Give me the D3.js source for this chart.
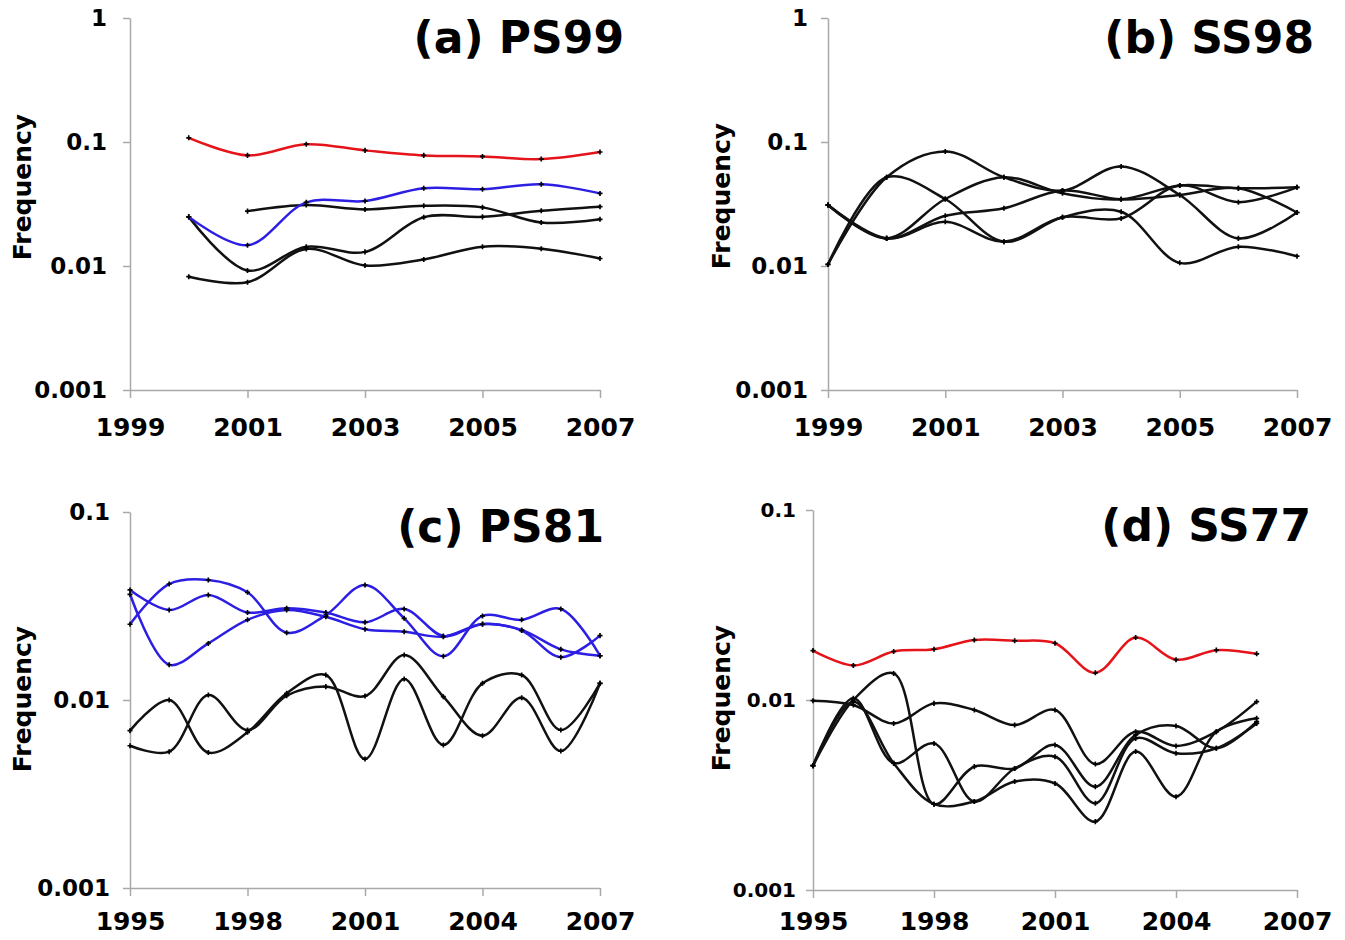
<!DOCTYPE html>
<html>
<head>
<meta charset="utf-8">
<script src="https://cdn.jsdelivr.net/npm/d3@7"></script>
<style>
  body { margin: 0; background: #fff; }
  text { font-family: "DejaVu Sans", Verdana, sans-serif; }
</style>
</head>
<body>
<div id="chart"></div>
<script>
// (a) PS99
var yearsPS99 = [2000, 2001, 2002, 2003, 2004, 2005, 2006, 2007];
var ps99Red    = [0.108, 0.078, 0.096, 0.0856, 0.078, 0.0765, 0.0728, 0.083];
var ps99Blue   = [0.0249, 0.0147, 0.0326, 0.0334, 0.0423, 0.0416, 0.0456, 0.0385];
var ps99Black1 = [null, 0.0277, 0.031, 0.0286, 0.0306, 0.0297, 0.0224, 0.0238];
var ps99Black2 = [0.0249, 0.0092, 0.0143, 0.013, 0.0247, 0.0249, 0.0279, 0.0301];
var ps99Black3 = [0.0082, 0.0074, 0.0137, 0.0101, 0.0113, 0.0143, 0.0138, 0.0115];

// (b) SS98
var yearsSS98 = [1999, 2000, 2001, 2002, 2003, 2004, 2005, 2006, 2007];
var ss98Line1 = [0.0103, 0.052, 0.084, 0.052, 0.0406, 0.0635, 0.0374, 0.0167, 0.027];
var ss98Line2 = [0.0103, 0.052, 0.0347, 0.0157, 0.0247, 0.0274, 0.0106, 0.0143, 0.012];
var ss98Line3 = [0.031, 0.0167, 0.0347, 0.052, 0.0386, 0.0345, 0.0446, 0.0424, 0.0431];
var ss98Line4 = [0.031, 0.0167, 0.0254, 0.0292, 0.0406, 0.0345, 0.0374, 0.0424, 0.027];
var ss98Line5 = [0.031, 0.0167, 0.0227, 0.0157, 0.0247, 0.0242, 0.0446, 0.0327, 0.0431];

// (c) PS81
var yearsPS81 = [1995, 1996, 1997, 1998, 1999, 2000, 2001, 2002, 2003, 2004, 2005, 2006, 2007];
var ps81Blue1  = [0.0253, 0.0414, 0.0435, 0.0374, 0.0228, 0.0283, 0.0409, 0.0272, 0.0171, 0.028, 0.0267, 0.0305, 0.0172];
var ps81Blue2  = [0.0385, 0.0301, 0.0362, 0.0292, 0.0308, 0.0292, 0.0259, 0.0305, 0.0219, 0.0254, 0.0236, 0.0186, 0.0172];
var ps81Blue3  = [0.0365, 0.0154, 0.02, 0.0267, 0.0301, 0.0277, 0.0238, 0.0231, 0.0217, 0.0253, 0.0234, 0.0169, 0.022];
var ps81Black1 = [0.00687, 0.01, 0.00525, 0.00673, 0.01085, 0.01358, 0.00485, 0.01294, 0.00577, 0.01226, 0.01358, 0.00692, 0.01226];
var ps81Black2 = [0.00571, 0.00531, 0.01063, 0.00692, 0.01054, 0.01178, 0.0105, 0.01734, 0.01042, 0.00646, 0.01029, 0.00535, 0.01226];

// (d) SS77
var yearsSS77 = [1995, 1996, 1997, 1998, 1999, 2000, 2001, 2002, 2003, 2004, 2005, 2006];
var ss77Red    = [0.0182, 0.0152, 0.018, 0.0185, 0.0207, 0.0205, 0.0199, 0.0139, 0.0213, 0.0163, 0.0183, 0.0175];
var ss77Black1 = [0.00992, 0.00941, 0.00753, 0.0096, 0.00886, 0.00738, 0.00886, 0.0046, 0.00681, 0.00573, 0.00681, 0.0098];
var ss77Black2 = [0.00451, 0.01, 0.0138, 0.00283, 0.00446, 0.00436, 0.0058, 0.0035, 0.00655, 0.0073, 0.00557, 0.00769];
var ss77Black3 = [0.00451, 0.0102, 0.00465, 0.00591, 0.00292, 0.00436, 0.00503, 0.00286, 0.00628, 0.00524, 0.00557, 0.00753];
var ss77Black4 = [0.00451, 0.0098, 0.00465, 0.00283, 0.00292, 0.00372, 0.00364, 0.00229, 0.00535, 0.0031, 0.00681, 0.00801];

var ticksTop = [1999, 2001, 2003, 2005, 2007];
var ticksBottom = [1995, 1998, 2001, 2004, 2007];
var yTicksTop = [1, 0.1, 0.01, 0.001];
var yTicksBottom = [0.1, 0.01, 0.001];

var RED = "#e5141b";
var BLUE = "#2c1ee2";
var BLACK = "#111";

var svg = d3.select("#chart").append("svg")
  .attr("width", 1345)
  .attr("height", 940);

function drawPanel(p){
  var x = d3.scaleLinear().domain(p.xDomain).range([p.left, p.right]);
  var y = d3.scaleLog().domain(p.yDomain).range([p.bottom, p.top]);

  var g = svg.append("g").attr("class", "panel");

  var xAxis = g.append("g")
    .attr("transform", "translate(0," + p.bottom + ")")
    .call(d3.axisBottom(x).tickValues(p.xTicks).tickFormat(d3.format("d"))
      .tickSize(8).tickSizeOuter(0).tickPadding(p.xPad));

  var yAxis = g.append("g")
    .attr("transform", "translate(" + p.left + ",0)")
    .call(d3.axisLeft(y).tickValues(p.yTicks).tickFormat(function(d){return String(d);})
      .tickSize(7).tickSizeOuter(0).tickPadding(p.yPad));

  g.selectAll(".domain, .tick line")
    .attr("stroke", "#a9a9a9")
    .attr("stroke-width", 1.5);
  xAxis.selectAll("text")
    .attr("font-size", 25)
    .attr("font-weight", "bold")
    .attr("fill", "#000");
  yAxis.selectAll("text")
    .attr("font-size", p.ySize)
    .attr("font-weight", "bold")
    .attr("fill", "#000");

  g.append("text")
    .attr("transform", "translate(" + p.freqX + "," + p.freqY + ") rotate(-90)")
    .attr("text-anchor", "middle")
    .attr("font-size", 25)
    .attr("font-weight", "bold")
    .text("Frequency");

  g.append("text")
    .attr("x", p.titleX)
    .attr("y", p.titleY)
    .attr("text-anchor", "end")
    .attr("font-size", 44)
    .attr("font-weight", "bold")
    .text(p.title);

  var line = d3.line()
    .defined(function(d){return d.v != null;})
    .x(function(d){return x(d.year);})
    .y(function(d){return y(d.v);})
    .curve(d3.curveCatmullRom.alpha(0.5));

  p.series.forEach(function(s){
    var pts = p.years.map(function(yr, i){return {year: yr, v: s.values[i]};});
    g.append("path")
      .datum(pts)
      .attr("fill", "none")
      .attr("stroke", s.color)
      .attr("stroke-width", 2.5)
      .attr("d", line);
    g.selectAll(null)
      .data(pts.filter(function(d){return d.v != null;}))
      .enter().append("path")
      .attr("transform", function(d){return "translate(" + x(d.year) + "," + y(d.v) + ")";})
      .attr("d", d3.symbol(d3.symbolCross, 14))
      .attr("fill", "#000");
  });
}

drawPanel({
  left: 130, right: 600, top: 18, bottom: 390,
  xDomain: [1999, 2007], yDomain: [0.001, 1],
  xTicks: ticksTop, yTicks: yTicksTop, xPad: 20, yPad: 16, ySize: 23,
  freqX: 31, freqY: 187,
  title: "(a) PS99", titleX: 624, titleY: 53,
  years: yearsPS99,
  series: [
    {values: ps99Black3, color: BLACK},
    {values: ps99Black2, color: BLACK},
    {values: ps99Black1, color: BLACK},
    {values: ps99Blue, color: BLUE},
    {values: ps99Red, color: RED}
  ]
});

drawPanel({
  left: 828, right: 1297, top: 18, bottom: 390,
  xDomain: [1999, 2007], yDomain: [0.001, 1],
  xTicks: ticksTop, yTicks: yTicksTop, xPad: 20, yPad: 13, ySize: 23,
  freqX: 730, freqY: 196,
  title: "(b) SS98", titleX: 1314, titleY: 53,
  years: yearsSS98,
  series: [
    {values: ss98Line1, color: BLACK},
    {values: ss98Line2, color: BLACK},
    {values: ss98Line3, color: BLACK},
    {values: ss98Line4, color: BLACK},
    {values: ss98Line5, color: BLACK}
  ]
});

drawPanel({
  left: 130, right: 600, top: 512, bottom: 888,
  xDomain: [1995, 2007], yDomain: [0.001, 0.1],
  xTicks: ticksBottom, yTicks: yTicksBottom, xPad: 16, yPad: 13, ySize: 23,
  freqX: 31, freqY: 699,
  title: "(c) PS81", titleX: 604, titleY: 542,
  years: yearsPS81,
  series: [
    {values: ps81Black1, color: BLACK},
    {values: ps81Black2, color: BLACK},
    {values: ps81Blue1, color: BLUE},
    {values: ps81Blue2, color: BLUE},
    {values: ps81Blue3, color: BLUE}
  ]
});

drawPanel({
  left: 813, right: 1297, top: 510, bottom: 890,
  xDomain: [1995, 2007], yDomain: [0.001, 0.1],
  xTicks: ticksBottom, yTicks: yTicksBottom, xPad: 14, yPad: 10, ySize: 20,
  freqX: 730, freqY: 698,
  title: "(d) SS77", titleX: 1311, titleY: 541,
  years: yearsSS77,
  series: [
    {values: ss77Black1, color: BLACK},
    {values: ss77Black2, color: BLACK},
    {values: ss77Black3, color: BLACK},
    {values: ss77Black4, color: BLACK},
    {values: ss77Red, color: RED}
  ]
});
</script>
</body>
</html>
